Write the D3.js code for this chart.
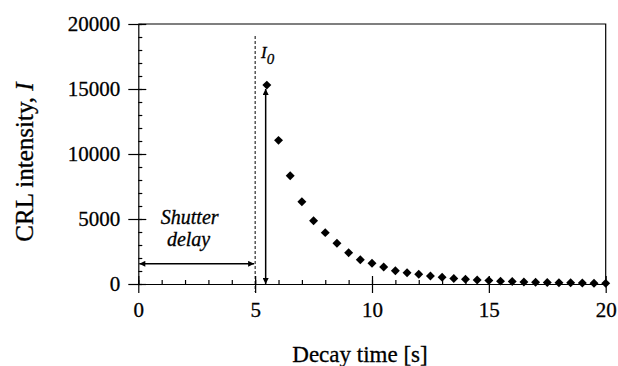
<!DOCTYPE html>
<html>
<head>
<meta charset="utf-8">
<script src="https://cdn.jsdelivr.net/npm/d3@7"></script>
<style>
  body { margin: 0; background: #fff; }
  svg text { fill: #000; stroke: #000; stroke-width: 0.3px; }
</style>
</head>
<body>
<div id="chart"></div>
<script>
// Decay curve
var decayTime = [5.5, 6, 6.5, 7, 7.5, 8, 8.5, 9, 9.5, 10, 10.5, 11, 11.5, 12, 12.5,
                 13, 13.5, 14, 14.5, 15, 15.5, 16, 16.5, 17, 17.5, 18, 18.5, 19, 19.5, 20];
var intensity = [15300, 11050, 8330, 6330, 4870, 3950, 3130, 2410, 1870, 1590, 1310, 1020, 870, 750, 615,
                 515, 420, 360, 310, 260, 220, 190, 160, 140, 120, 100, 90, 80, 60, 50];

var xMajor = [0, 5, 10, 15, 20];
var xMinor = d3.range(0, 21, 1);
var yMajor = [0, 5000, 10000, 15000, 20000];
var yMinor = d3.range(0, 20001, 1000);

var shutterDelay = 5;      // dashed line
var arrowTime = 5.45;      // I0 arrow
var arrowTop = 15000;
var delayLevel = 1550;     // height of the shutter delay arrow

var serif = "Liberation Serif";
var width = 618, height = 366;

var svg = d3.select("#chart").append("svg")
    .attr("width", width)
    .attr("height", height)
    .attr("font-family", serif);

var x = d3.scaleLinear().domain([0, 20]).range([138.3, 605.7]);
var y = d3.scaleLinear().domain([0, 20000]).range([284, 24]);

// arrow heads
var defs = svg.append("defs");
defs.append("marker")
    .attr("id", "head")
    .attr("viewBox", "0 -5 10 10")
    .attr("refX", 10)
    .attr("refY", 0)
    .attr("markerUnits", "userSpaceOnUse")
    .attr("markerWidth", 8)
    .attr("markerHeight", 6)
    .attr("orient", "auto-start-reverse")
    .append("path")
    .attr("d", "M0,-5L10,0L0,5Z")
    .attr("fill", "#000");

// frame (top and right)
svg.append("path")
    .attr("d", "M" + x(0) + "," + y(20000) + "H" + x(20) + "V" + y(0))
    .attr("fill", "none")
    .attr("stroke", "#000")
    .attr("stroke-width", 1.2);

// x axis: outer part with labels, then inward ticks
var gx = svg.append("g")
    .attr("transform", "translate(0," + y(0) + ")")
    .call(d3.axisBottom(x).tickValues(xMajor).tickSize(9).tickSizeOuter(0).tickPadding(9)
          .tickFormat(d3.format("d")));
gx.append("g")
    .call(d3.axisBottom(x).tickValues(xMajor).tickSize(-8).tickFormat(""))
    .select(".domain").remove();
gx.append("g")
    .call(d3.axisBottom(x).tickValues(xMinor).tickSize(-4).tickFormat(""))
    .select(".domain").remove();

var gy = svg.append("g")
    .attr("transform", "translate(" + x(0) + ",0)")
    .call(d3.axisLeft(y).tickValues(yMajor).tickSize(10).tickSizeOuter(0).tickPadding(8)
          .tickFormat(d3.format("d")));
gy.append("g")
    .call(d3.axisLeft(y).tickValues(yMajor).tickSize(-8).tickFormat(""))
    .select(".domain").remove();
gy.append("g")
    .call(d3.axisLeft(y).tickValues(yMinor).tickSize(-4).tickFormat(""))
    .select(".domain").remove();

gx.attr("font-family", serif).attr("font-size", 21);
gy.attr("font-family", serif).attr("font-size", 21);
svg.selectAll(".tick line, .domain")
    .attr("stroke", "#000")
    .attr("stroke-width", 1.2);
svg.selectAll(".tick text")
    .attr("fill", "#000");

// dashed shutter line
svg.append("line")
    .attr("x1", x(shutterDelay)).attr("x2", x(shutterDelay))
    .attr("y1", 36).attr("y2", y(0) + 8)
    .attr("stroke", "#000")
    .attr("stroke-width", 1)
    .attr("stroke-dasharray", "3,2");

// shutter delay arrow
svg.append("line")
    .attr("x1", x(0) + 1).attr("x2", x(shutterDelay) - 1)
    .attr("y1", y(delayLevel)).attr("y2", y(delayLevel))
    .attr("stroke", "#000")
    .attr("stroke-width", 1.5)
    .attr("marker-start", "url(#head)")
    .attr("marker-end", "url(#head)");

// I0 arrow
svg.append("line")
    .attr("x1", x(arrowTime)).attr("x2", x(arrowTime))
    .attr("y1", y(arrowTop)).attr("y2", y(0))
    .attr("stroke", "#000")
    .attr("stroke-width", 1.5)
    .attr("marker-start", "url(#head)")
    .attr("marker-end", "url(#head)");

// data points
var points = decayTime.map(function(t, i) { return {t: t, v: intensity[i]}; });
svg.append("g")
    .selectAll("path")
    .data(points)
    .enter().append("path")
    .attr("d", d3.symbol().type(d3.symbolSquare).size(40))
    .attr("transform", function(d) { return "translate(" + x(d.t) + "," + y(d.v) + ") rotate(45)"; })
    .attr("fill", "#000");

// annotations
var i0 = svg.append("text")
    .attr("x", 261)
    .attr("y", 58)
    .attr("font-size", "17px")
    .attr("font-style", "italic");
i0.append("tspan").text("I");
i0.append("tspan").attr("dy", 6).attr("font-size", "15px").text("0");

svg.append("text")
    .attr("x", x(2.2)).attr("y", 224)
    .attr("text-anchor", "middle")
    .attr("font-size", "20px")
    .attr("font-style", "italic")
    .text("Shutter");
svg.append("text")
    .attr("x", x(2.15)).attr("y", 246)
    .attr("text-anchor", "middle")
    .attr("font-size", "20px")
    .attr("font-style", "italic")
    .text("delay");

// axis titles
svg.append("text")
    .attr("x", 360).attr("y", 362)
    .attr("text-anchor", "middle")
    .attr("font-size", "23px")
    .text("Decay time [s]");

var yt = svg.append("text")
    .attr("transform", "translate(33,162) rotate(-90)")
    .attr("text-anchor", "middle")
    .attr("font-size", "25px");
yt.append("tspan").text("CRL intensity, ");
yt.append("tspan").attr("font-style", "italic").text("I");
</script>
</body>
</html>
